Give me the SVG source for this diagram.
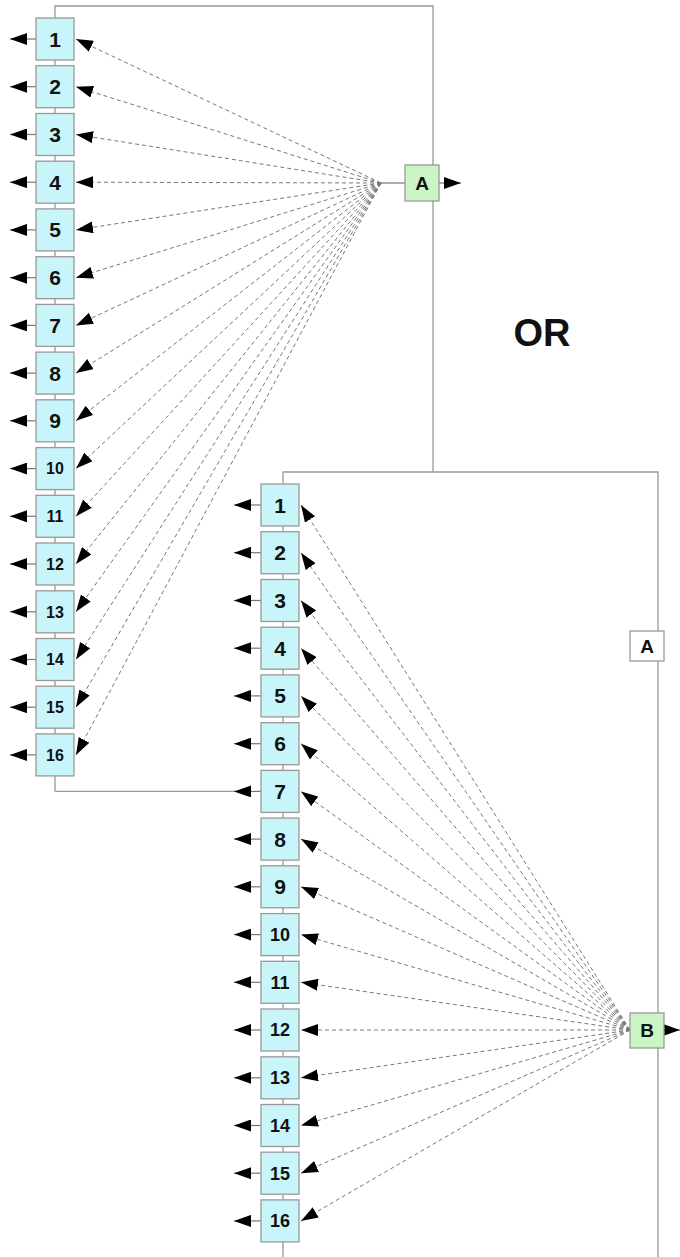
<svg xmlns="http://www.w3.org/2000/svg" width="680" height="1257" viewBox="0 0 680 1257">
<style>
.bg{fill:#fff}
.frame{fill:none;stroke:#999;stroke-width:1.3}
.dash{fill:none;stroke:#777;stroke-width:1;stroke-dasharray:4,3}
.out{fill:none;stroke:#777;stroke-width:1.2}
.box{fill:#c8f5fa;stroke:#999;stroke-width:1.3}
.gbox{fill:#ccf5c6;stroke:#999;stroke-width:1.3}
.wbox{fill:#fff;stroke:#999;stroke-width:1.3}
.t{font-family:"Liberation Sans",Arial,sans-serif;font-weight:bold;fill:#111;text-anchor:middle}
.t1{font-size:21px}
.t2{font-size:16px}
.t3{font-size:18px}
.tl{font-size:19px}
.or{font-family:"Liberation Sans",Arial,sans-serif;font-weight:bold;font-size:38px;fill:#111;text-anchor:middle}
</style>
<defs>
<marker id="ah" markerUnits="userSpaceOnUse" markerWidth="17" markerHeight="12" viewBox="0 0 17 12" refX="17" refY="6" orient="auto">
<path d="M0,0 L17,6 L0,12 z" fill="#000"/>
</marker>
</defs>
<rect class="bg" x="0" y="0" width="680" height="1257"/>
<g id="connectors">
<path class="frame" d="M55,791.4 V6 H433 V472 M283,1257 V472 H658 V1257 M55,791.4 H240"/>
<path class="out" d="M381,183 H405"/>
<path class="out" d="M439,183 H461" marker-end="url(#ah)"/>
<path class="out" d="M664,1030 H680" marker-end="url(#ah)"/>
<path class="dash" d="M381,183 L76,39" marker-end="url(#ah)"/>
<path class="dash" d="M381,183 L76,86.7" marker-end="url(#ah)"/>
<path class="dash" d="M381,183 L76,134.5" marker-end="url(#ah)"/>
<path class="dash" d="M381,183 L76,182.2" marker-end="url(#ah)"/>
<path class="dash" d="M381,183 L76,229.9" marker-end="url(#ah)"/>
<path class="dash" d="M381,183 L76,277.7" marker-end="url(#ah)"/>
<path class="dash" d="M381,183 L76,325.4" marker-end="url(#ah)"/>
<path class="dash" d="M381,183 L76,373.1" marker-end="url(#ah)"/>
<path class="dash" d="M381,183 L76,420.8" marker-end="url(#ah)"/>
<path class="dash" d="M381,183 L76,468.6" marker-end="url(#ah)"/>
<path class="dash" d="M381,183 L76,516.3" marker-end="url(#ah)"/>
<path class="dash" d="M381,183 L76,564" marker-end="url(#ah)"/>
<path class="dash" d="M381,183 L76,611.8" marker-end="url(#ah)"/>
<path class="dash" d="M381,183 L76,659.5" marker-end="url(#ah)"/>
<path class="dash" d="M381,183 L76,707.2" marker-end="url(#ah)"/>
<path class="dash" d="M381,183 L76,754.9" marker-end="url(#ah)"/>
<path class="dash" d="M630,1030 L301,505" marker-end="url(#ah)"/>
<path class="dash" d="M630,1030 L301,552.7" marker-end="url(#ah)"/>
<path class="dash" d="M630,1030 L301,600.5" marker-end="url(#ah)"/>
<path class="dash" d="M630,1030 L301,648.2" marker-end="url(#ah)"/>
<path class="dash" d="M630,1030 L301,695.9" marker-end="url(#ah)"/>
<path class="dash" d="M630,1030 L301,743.7" marker-end="url(#ah)"/>
<path class="dash" d="M630,1030 L301,791.4" marker-end="url(#ah)"/>
<path class="dash" d="M630,1030 L301,839.1" marker-end="url(#ah)"/>
<path class="dash" d="M630,1030 L301,886.8" marker-end="url(#ah)"/>
<path class="dash" d="M630,1030 L301,934.6" marker-end="url(#ah)"/>
<path class="dash" d="M630,1030 L301,982.3" marker-end="url(#ah)"/>
<path class="dash" d="M630,1030 L301,1030" marker-end="url(#ah)"/>
<path class="dash" d="M630,1030 L301,1077.8" marker-end="url(#ah)"/>
<path class="dash" d="M630,1030 L301,1125.5" marker-end="url(#ah)"/>
<path class="dash" d="M630,1030 L301,1173.2" marker-end="url(#ah)"/>
<path class="dash" d="M630,1030 L301,1220.9" marker-end="url(#ah)"/>
<path class="out" d="M36,39 H10" marker-end="url(#ah)"/>
<path class="out" d="M36,86.7 H10" marker-end="url(#ah)"/>
<path class="out" d="M36,134.5 H10" marker-end="url(#ah)"/>
<path class="out" d="M36,182.2 H10" marker-end="url(#ah)"/>
<path class="out" d="M36,229.9 H10" marker-end="url(#ah)"/>
<path class="out" d="M36,277.7 H10" marker-end="url(#ah)"/>
<path class="out" d="M36,325.4 H10" marker-end="url(#ah)"/>
<path class="out" d="M36,373.1 H10" marker-end="url(#ah)"/>
<path class="out" d="M36,420.8 H10" marker-end="url(#ah)"/>
<path class="out" d="M36,468.6 H10" marker-end="url(#ah)"/>
<path class="out" d="M36,516.3 H10" marker-end="url(#ah)"/>
<path class="out" d="M36,564 H10" marker-end="url(#ah)"/>
<path class="out" d="M36,611.8 H10" marker-end="url(#ah)"/>
<path class="out" d="M36,659.5 H10" marker-end="url(#ah)"/>
<path class="out" d="M36,707.2 H10" marker-end="url(#ah)"/>
<path class="out" d="M36,754.9 H10" marker-end="url(#ah)"/>
<path class="out" d="M261,505 H234" marker-end="url(#ah)"/>
<path class="out" d="M261,552.7 H234" marker-end="url(#ah)"/>
<path class="out" d="M261,600.5 H234" marker-end="url(#ah)"/>
<path class="out" d="M261,648.2 H234" marker-end="url(#ah)"/>
<path class="out" d="M261,695.9 H234" marker-end="url(#ah)"/>
<path class="out" d="M261,743.7 H234" marker-end="url(#ah)"/>
<path class="out" d="M261,791.4 H234" marker-end="url(#ah)"/>
<path class="out" d="M261,839.1 H234" marker-end="url(#ah)"/>
<path class="out" d="M261,886.8 H234" marker-end="url(#ah)"/>
<path class="out" d="M261,934.6 H234" marker-end="url(#ah)"/>
<path class="out" d="M261,982.3 H234" marker-end="url(#ah)"/>
<path class="out" d="M261,1030 H234" marker-end="url(#ah)"/>
<path class="out" d="M261,1077.8 H234" marker-end="url(#ah)"/>
<path class="out" d="M261,1125.5 H234" marker-end="url(#ah)"/>
<path class="out" d="M261,1173.2 H234" marker-end="url(#ah)"/>
<path class="out" d="M261,1220.9 H234" marker-end="url(#ah)"/>
</g>
<g id="top-1" transform="translate(55,39)"><rect class="box" x="-19" y="-21" width="38" height="42"/><text class="t t1" y="7.5">1</text></g>
<g id="top-2" transform="translate(55,86.7)"><rect class="box" x="-19" y="-21" width="38" height="42"/><text class="t t1" y="7.5">2</text></g>
<g id="top-3" transform="translate(55,134.5)"><rect class="box" x="-19" y="-21" width="38" height="42"/><text class="t t1" y="7.5">3</text></g>
<g id="top-4" transform="translate(55,182.2)"><rect class="box" x="-19" y="-21" width="38" height="42"/><text class="t t1" y="7.5">4</text></g>
<g id="top-5" transform="translate(55,229.9)"><rect class="box" x="-19" y="-21" width="38" height="42"/><text class="t t1" y="7.5">5</text></g>
<g id="top-6" transform="translate(55,277.7)"><rect class="box" x="-19" y="-21" width="38" height="42"/><text class="t t1" y="7.5">6</text></g>
<g id="top-7" transform="translate(55,325.4)"><rect class="box" x="-19" y="-21" width="38" height="42"/><text class="t t1" y="7.5">7</text></g>
<g id="top-8" transform="translate(55,373.1)"><rect class="box" x="-19" y="-21" width="38" height="42"/><text class="t t1" y="7.5">8</text></g>
<g id="top-9" transform="translate(55,420.8)"><rect class="box" x="-19" y="-21" width="38" height="42"/><text class="t t1" y="7.5">9</text></g>
<g id="top-10" transform="translate(55,468.6)"><rect class="box" x="-19" y="-21" width="38" height="42"/><text class="t t2" y="5.8">10</text></g>
<g id="top-11" transform="translate(55,516.3)"><rect class="box" x="-19" y="-21" width="38" height="42"/><text class="t t2" y="5.8">11</text></g>
<g id="top-12" transform="translate(55,564)"><rect class="box" x="-19" y="-21" width="38" height="42"/><text class="t t2" y="5.8">12</text></g>
<g id="top-13" transform="translate(55,611.8)"><rect class="box" x="-19" y="-21" width="38" height="42"/><text class="t t2" y="5.8">13</text></g>
<g id="top-14" transform="translate(55,659.5)"><rect class="box" x="-19" y="-21" width="38" height="42"/><text class="t t2" y="5.8">14</text></g>
<g id="top-15" transform="translate(55,707.2)"><rect class="box" x="-19" y="-21" width="38" height="42"/><text class="t t2" y="5.8">15</text></g>
<g id="top-16" transform="translate(55,754.9)"><rect class="box" x="-19" y="-21" width="38" height="42"/><text class="t t2" y="5.8">16</text></g>
<g id="bot-1" transform="translate(280,505)"><rect class="box" x="-19" y="-21" width="38" height="42"/><text class="t t1" y="7.5">1</text></g>
<g id="bot-2" transform="translate(280,552.7)"><rect class="box" x="-19" y="-21" width="38" height="42"/><text class="t t1" y="7.5">2</text></g>
<g id="bot-3" transform="translate(280,600.5)"><rect class="box" x="-19" y="-21" width="38" height="42"/><text class="t t1" y="7.5">3</text></g>
<g id="bot-4" transform="translate(280,648.2)"><rect class="box" x="-19" y="-21" width="38" height="42"/><text class="t t1" y="7.5">4</text></g>
<g id="bot-5" transform="translate(280,695.9)"><rect class="box" x="-19" y="-21" width="38" height="42"/><text class="t t1" y="7.5">5</text></g>
<g id="bot-6" transform="translate(280,743.7)"><rect class="box" x="-19" y="-21" width="38" height="42"/><text class="t t1" y="7.5">6</text></g>
<g id="bot-7" transform="translate(280,791.4)"><rect class="box" x="-19" y="-21" width="38" height="42"/><text class="t t1" y="7.5">7</text></g>
<g id="bot-8" transform="translate(280,839.1)"><rect class="box" x="-19" y="-21" width="38" height="42"/><text class="t t1" y="7.5">8</text></g>
<g id="bot-9" transform="translate(280,886.8)"><rect class="box" x="-19" y="-21" width="38" height="42"/><text class="t t1" y="7.5">9</text></g>
<g id="bot-10" transform="translate(280,934.6)"><rect class="box" x="-19" y="-21" width="38" height="42"/><text class="t t3" y="6.4">10</text></g>
<g id="bot-11" transform="translate(280,982.3)"><rect class="box" x="-19" y="-21" width="38" height="42"/><text class="t t3" y="6.4">11</text></g>
<g id="bot-12" transform="translate(280,1030)"><rect class="box" x="-19" y="-21" width="38" height="42"/><text class="t t3" y="6.4">12</text></g>
<g id="bot-13" transform="translate(280,1077.8)"><rect class="box" x="-19" y="-21" width="38" height="42"/><text class="t t3" y="6.4">13</text></g>
<g id="bot-14" transform="translate(280,1125.5)"><rect class="box" x="-19" y="-21" width="38" height="42"/><text class="t t3" y="6.4">14</text></g>
<g id="bot-15" transform="translate(280,1173.2)"><rect class="box" x="-19" y="-21" width="38" height="42"/><text class="t t3" y="6.4">15</text></g>
<g id="bot-16" transform="translate(280,1220.9)"><rect class="box" x="-19" y="-21" width="38" height="42"/><text class="t t3" y="6.4">16</text></g>
<g id="node-A" transform="translate(422,183)"><rect class="gbox" x="-17" y="-18" width="34" height="36"/><text class="t tl" y="6.8">A</text></g>
<g id="node-A2" transform="translate(647,646)"><rect class="wbox" x="-17" y="-15" width="34" height="30"/><text class="t tl" y="6.8">A</text></g>
<g id="node-B" transform="translate(647,1030.5)"><rect class="gbox" x="-17" y="-17.5" width="34" height="35"/><text class="t tl" y="6.8">B</text></g>
<text class="or" x="542" y="346">OR</text>
</svg>
